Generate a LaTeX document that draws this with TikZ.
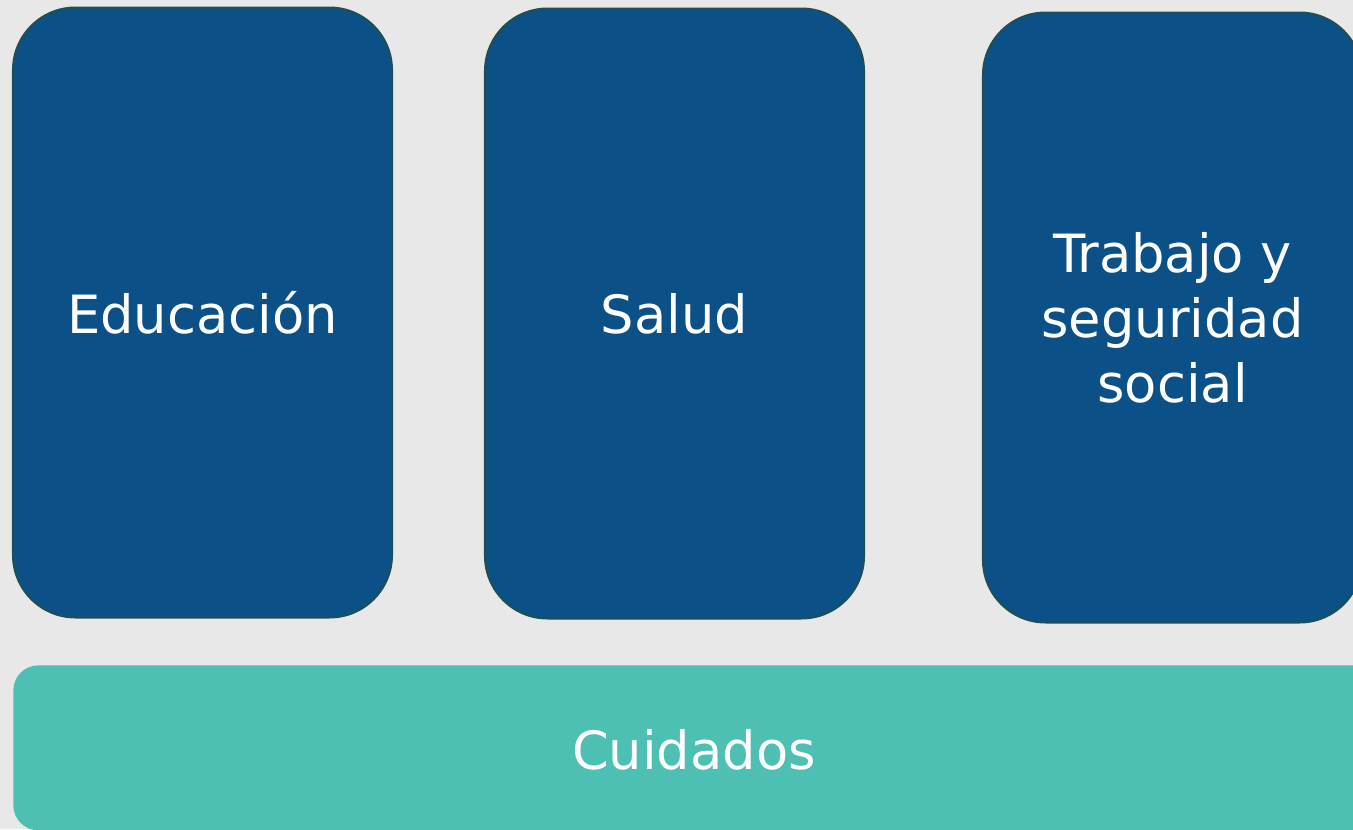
\documentclass[tikz,border=0pt]{standalone}
\usepackage{fontspec}
\setmainfont{DejaVu Sans}
\usetikzlibrary{positioning}

\definecolor{bgray}{HTML}{E8E8E8}
\definecolor{pillar}{HTML}{0C5088}
\definecolor{pillarline}{HTML}{1D4F55}
\definecolor{careteal}{HTML}{4DBFB3}

\begin{document}
\begin{tikzpicture}[x=0.02cm,y=-0.02cm,
    pillarbox/.style={draw=pillarline,line width=1.2pt,fill=pillar,rounded corners=1.25cm,
      minimum width=7.58cm,minimum height=12.2cm,text=white,align=center,
      font=\fontsize{30}{37}\selectfont},
    basebox/.style={fill=careteal,rounded corners=0.5cm,minimum width=27.6cm,minimum height=3.3cm,
      text=white,font=\fontsize{30}{37}\selectfont}]
  \fill[bgray] (0,0) rectangle (1353,829);
  \useasboundingbox (0,0) rectangle (1353,829);
  \clip (0,0) rectangle (1353,829);

  \node[pillarbox] (edu) at (202.5,312.5) {Educación};
  \node[pillarbox] (sal) at (674.5,313.5) {Salud};
  \node[pillarbox] (trab) at (1172.5,317.5) {Trabajo y\\seguridad\\social};

  % base bar runs past the right edge
  \node[basebox,anchor=north west] (cuid) at (13,665) {};
  \node[text=white,font=\fontsize{30}{37}\selectfont] (cuidtxt) at (694,750) {Cuidados};
\end{tikzpicture}
\end{document}
